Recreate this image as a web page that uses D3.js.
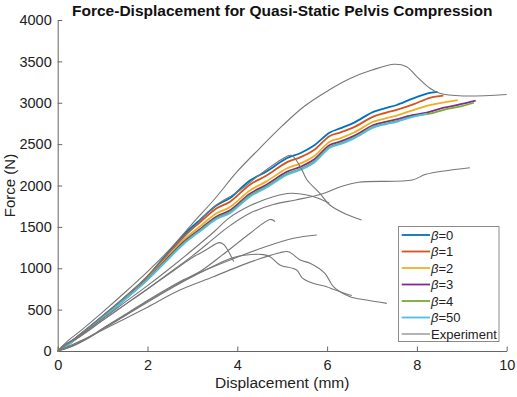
<!DOCTYPE html>
<html>
<head>
<meta charset="utf-8">
<script src="https://cdn.jsdelivr.net/npm/d3@7"></script>
<style>
  body { margin: 0; background: #fff; }
  svg { font-family: "Liberation Sans", Arial, sans-serif; }
</style>
</head>
<body>
<script>
// simulation curves, [displacement mm, force N]
var beta0 = [[0,0],[0.25,90],[0.5,200],[1,420],[1.5,650],[2,900],[2.35,1120],[2.8,1400],[3.2,1600],[3.54,1760],[3.84,1850],[4.28,2060],[4.65,2170],[5.1,2330],[5.4,2390],[5.7,2480],[6.06,2640],[6.29,2690],[6.6,2760],[7.03,2890],[7.3,2935],[7.55,2973],[7.92,3054],[8.29,3118],[8.46,3132]];
var beta1 = [[0,0],[0.25,88],[0.5,196],[1,415],[1.5,645],[2,893],[2.35,1105],[2.8,1380],[3.2,1570],[3.54,1725],[3.84,1805],[4.28,2010],[4.65,2120],[5.1,2280],[5.4,2340],[5.7,2425],[6.06,2598],[6.29,2640],[6.6,2705],[7.03,2832],[7.3,2878],[7.55,2915],[7.92,2981],[8.29,3060],[8.59,3085]];
var beta2 = [[0,0],[0.25,86],[0.5,192],[1,408],[1.5,636],[2,880],[2.35,1080],[2.8,1340],[3.2,1520],[3.54,1665],[3.84,1740],[4.28,1940],[4.65,2050],[5.1,2205],[5.4,2265],[5.7,2350],[6.06,2529],[6.29,2570],[6.6,2640],[7.03,2771],[7.3,2810],[7.55,2845],[7.92,2912],[8.29,2970],[8.51,2995],[8.91,3033]];
var beta3 = [[0,0],[0.25,85],[0.5,190],[1,403],[1.5,630],[2,870],[2.35,1065],[2.8,1315],[3.2,1485],[3.54,1625],[3.84,1700],[4.28,1900],[4.65,2010],[5.1,2165],[5.4,2225],[5.7,2310],[6.06,2489],[6.29,2530],[6.6,2600],[7.03,2731],[7.3,2770],[7.55,2800],[7.92,2852],[8.22,2882],[8.6,2940],[9.0,2985],[9.31,3025]];
var beta4 = [[0,0],[0.25,84],[0.5,188],[1,400],[1.5,626],[2,865],[2.35,1055],[2.8,1300],[3.2,1470],[3.54,1608],[3.84,1680],[4.28,1878],[4.65,1988],[5.1,2140],[5.4,2200],[5.7,2285],[6.06,2465],[6.29,2508],[6.6,2578],[7.03,2708],[7.3,2748],[7.55,2778],[7.92,2836],[8.29,2868],[8.6,2915],[9.0,2960],[9.27,3000]];
var beta50 = [[0,0],[0.25,83],[0.5,186],[1,398],[1.5,622],[2,860],[2.35,1050],[2.8,1290],[3.2,1460],[3.54,1595],[3.84,1668],[4.28,1865],[4.65,1975],[5.1,2128],[5.4,2188],[5.7,2272],[6.06,2457],[6.29,2500],[6.6,2570],[7.03,2699],[7.3,2740],[7.55,2770],[7.92,2832],[8.22,2870]];

// experiment curves
var exp1 = [[0,0],[0.2,110],[0.5,240],[1,470],[1.5,710],[2,960],[2.5,1230],[3,1540],[3.5,1840],[4,2170],[4.5,2450],[5,2720],[5.5,2960],[6,3140],[6.5,3290],[7,3395],[7.5,3465],[7.77,3436],[8,3315],[8.29,3175],[8.51,3114],[9.03,3082],[10,3100]];
var exp2 = [[0,0],[0.2,80],[0.5,200],[1,425],[1.5,655],[2,905],[2.5,1200],[3,1480],[3.5,1750],[4,1920],[4.5,2130],[5,2320],[5.2,2365],[5.4,2230],[5.55,2070],[5.84,1906],[6.06,1764],[6.4,1660],[6.77,1583]];
var exp3 = [[0,0],[0.2,90],[0.5,190],[1,390],[1.5,590],[2,790],[2.5,1000],[3,1220],[3.5,1450],[3.8,1600],[4.3,1760],[4.8,1865],[5.2,1906],[5.55,1885],[5.8,1845],[6.05,1785]];
var exp4 = [[0,0],[0.2,80],[0.5,180],[1,370],[1.5,560],[2,750],[2.5,950],[3,1150],[3.5,1370],[3.8,1500],[4.3,1670],[4.8,1770],[5.3,1825],[5.9,1900],[6.3,1985],[6.7,2040],[7.9,2066],[8.2,2135],[9.18,2215]];
var exp5 = [[0,0],[0.3,60],[0.7,170],[1.05,290],[1.5,440],[2,610],[2.5,770],[2.8,860],[3.17,960],[3.76,1200],[4.28,1420],[4.73,1590],[4.84,1565]];
var exp6 = [[0,0],[0.3,55],[0.7,165],[1.05,285],[1.5,430],[2,600],[2.5,760],[2.8,850],[3.17,950],[3.84,1100],[4.58,1250],[5.25,1362],[5.77,1402]];
var exp7 = [[0,0],[0.2,90],[0.5,175],[1,370],[1.5,560],[2,750],[2.5,940],[3,1130],[3.3,1220],[3.6,1310],[3.7,1285],[3.92,1080]];
var exp8 = [[0,0],[0.3,50],[0.7,160],[1.05,280],[1.5,425],[2,590],[2.5,750],[2.8,840],[3.17,945],[3.6,1060],[3.91,1130],[4.2,1160],[4.58,1165],[4.73,1140],[4.95,1039],[5.32,979],[5.45,880],[5.69,818],[5.99,777],[6.14,745],[6.43,690],[6.55,670]];
var exp9 = [[0,0],[0.5,120],[1,255],[1.5,390],[2,530],[2.72,737],[3.47,898],[4.21,1059],[4.95,1188],[5.14,1200],[5.4,1100],[5.62,1060],[5.95,939],[6.14,777],[6.51,656],[6.88,616],[7.33,576]];

var simNames = ["0","1","2","3","4","50"];
var simColors = ["#0072BD","#D95319","#EDB120","#7E2F8E","#77AC30","#4DBEEE"];
var simData = [beta0, beta1, beta2, beta3, beta4, beta50];
var expData = [exp1, exp2, exp3, exp4, exp5, exp6, exp7, exp8, exp9];

var xTicks = [0,2,4,6,8,10];
var yTicks = [0,500,1000,1500,2000,2500,3000,3500,4000];

var margin = {left:57.7, top:20};
var width = 449;
var height = 331;

var x = d3.scaleLinear().domain([0,10]).range([0, width]);
var y = d3.scaleLinear().domain([0,4000]).range([height, 0]);

var svg = d3.select("body").append("svg").attr("width",517).attr("height",397);

svg.append("text")
    .attr("x", margin.left + width/2).attr("y", 16)
    .attr("text-anchor","middle")
    .attr("font-size","15.5px").attr("font-weight","bold")
    .attr("fill","#111")
    .text("Force-Displacement for Quasi-Static Pelvis Compression");

var chartGroup = svg.append("g").attr("transform","translate("+margin.left+","+margin.top+")");

var xAxis = d3.axisBottom(x).tickValues(xTicks).tickFormat(d3.format("d"))
    .tickSizeInner(-4.5).tickSizeOuter(0).tickPadding(8.7);
var yAxis = d3.axisLeft(y).tickValues(yTicks).tickFormat(d3.format("d"))
    .tickSizeInner(-4.5).tickSizeOuter(0).tickPadding(6);

var gx = chartGroup.append("g").attr("transform","translate(0,"+height+")").call(xAxis);
var gy = chartGroup.append("g").call(yAxis);
[gx, gy].forEach(function(g){
  g.attr("font-family", null);
  g.select(".domain").attr("stroke","#666");
  g.selectAll(".tick line").attr("stroke","#666");
  g.selectAll(".tick text").attr("font-size","14.5px").attr("fill","#222");
});

svg.append("text")
    .attr("x", margin.left + width/2).attr("y", 388)
    .attr("text-anchor","middle").attr("font-size","15.5px").attr("fill","#222")
    .text("Displacement (mm)");
svg.append("text")
    .attr("transform","translate(15,"+(margin.top+height/2)+") rotate(-90)")
    .attr("text-anchor","middle").attr("font-size","15px").attr("fill","#222")
    .text("Force (N)");

var line = d3.line()
    .curve(d3.curveCatmullRom.alpha(0.5))
    .x(function(d){return x(d[0]);})
    .y(function(d){return y(d[1]);});

simData.forEach(function(s,i){
  chartGroup.append("path").attr("d", line(s))
    .attr("fill","none").attr("stroke", simColors[i])
    .attr("stroke-width",1.8).attr("stroke-linejoin","round");
});
expData.forEach(function(s){
  chartGroup.append("path").attr("d", line(s))
    .attr("fill","none").attr("stroke","#777")
    .attr("stroke-width",1.1).attr("stroke-linejoin","round");
});

// legend
var lg = svg.append("g").attr("transform","translate(398.5,226.5)");
lg.append("rect").attr("width",100.5).attr("height",115)
  .attr("fill","#fff").attr("stroke","#8c8c8c").attr("stroke-width",1);
var rows = simNames.map(function(n,i){return {name:n, color:simColors[i], sim:true};});
rows.push({name:"Experiment", color:"#777", sim:false});
rows.forEach(function(r,i){
  var ry = 8.5 + i*16.5;
  lg.append("line").attr("x1",3.2).attr("x2",31.5).attr("y1",ry).attr("y2",ry)
    .attr("stroke", r.color).attr("stroke-width", r.sim ? 1.8 : 1.1);
  var t = lg.append("text").attr("x",32.5).attr("y",ry).attr("dy","0.35em")
    .attr("font-size","13px").attr("fill","#222");
  if (r.sim) {
    t.append("tspan").attr("font-style","italic").text("\u03B2");
    t.append("tspan").text("=" + r.name);
  } else {
    t.text(r.name);
  }
});
</script>
</body>
</html>
